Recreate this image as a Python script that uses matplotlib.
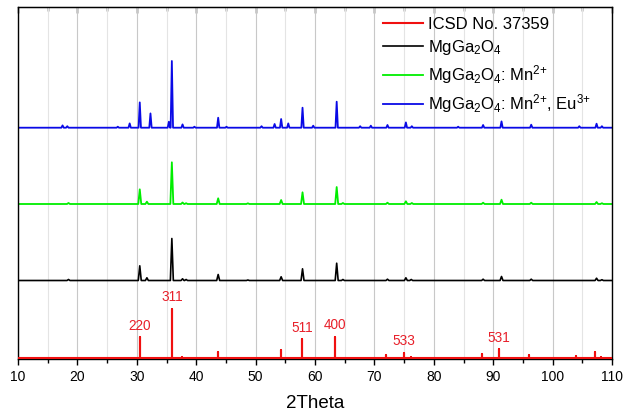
import matplotlib.pyplot as plt
import numpy as np

plt.rcParams['font.family'] = ['Liberation Sans', 'DejaVu Sans']
plt.rcParams['mathtext.default'] = 'regular'

ref_pos = [30.5, 35.9, 37.6, 43.6, 54.2, 57.8, 63.4, 71.95, 75.0, 76.1, 88.1, 91.0, 96.0, 104.0, 107.1, 108.2]
ref_h = [21.3, 49.7, 1.3, 6.0, 8.3, 19.3, 21.7, 3.3, 5.7, 1.3, 4.0, 9.0, 3.3, 2.7, 6.7, 1.3]

hkl_labels = ['220', '311', '511', '400', '533', '531']
hkl_pos = [30.5, 35.9, 57.8, 63.4, 75.0, 91.0]
hkl_h = [21.3, 49.7, 19.3, 21.7, 5.7, 9.0]

host_pos = [18.5, 30.5, 31.7, 35.9, 37.7, 38.3, 43.7, 48.7, 54.3, 57.9, 63.65, 64.7, 72.2, 75.3, 76.2, 88.3, 91.4, 96.4, 107.4, 108.3]
host_h = [1.0, 14.7, 2.7, 42.0, 1.7, 1.0, 6.0, 0.5, 3.7, 11.7, 17.3, 1.0, 1.3, 2.7, 1.0, 1.3, 4.0, 1.3, 2.3, 0.8]

mn_pos = [18.5, 30.5, 31.7, 35.9, 37.7, 38.3, 43.7, 48.7, 54.3, 57.9, 63.65, 64.7, 72.2, 75.3, 76.3, 88.3, 91.4, 96.4, 107.4, 108.3]
mn_h = [1.0, 14.7, 2.3, 41.7, 1.5, 0.8, 5.7, 0.7, 4.0, 11.7, 17.0, 1.0, 1.3, 2.7, 1.0, 1.3, 4.3, 1.3, 2.0, 0.8]

mneu_pos = [17.5, 18.3, 26.8, 28.8, 30.5, 32.3, 35.4, 35.9, 37.7, 39.7, 43.7, 45.1, 51.0, 53.2, 54.3, 55.5, 57.9, 59.7,
            63.65, 67.6, 69.4, 72.2, 75.3, 76.3, 84.1, 88.3, 91.4, 96.4, 104.5, 107.4, 108.3]
mneu_h = [2.3, 1.5, 1.0, 4.3, 25.3, 14.3, 6.0, 66.7, 3.3, 1.0, 10.0, 1.0, 1.5, 3.7, 8.7, 4.3, 20.0, 2.0,
          26.0, 1.5, 2.0, 2.7, 5.3, 1.5, 1.0, 2.7, 6.3, 3.0, 1.5, 4.0, 1.5]

# vertical offsets of the stacked patterns
offsets = {'ref': 0.8, 'host': 78.5, 'mn': 155.0, 'mneu': 231.3}


def trace(pos, h, base, hw):
    xs, ys = [10], [base]
    for p, v in zip(pos, h):
        xs += [p - hw, p, p + hw]
        ys += [base, base + v, base]
    xs.append(110)
    ys.append(base)
    return xs, ys


fig = plt.figure(figsize=(6.34, 4.13), dpi=100)
ax = fig.add_axes([18 / 634, 54 / 413, 594 / 634, 352 / 413])

x, y = trace(ref_pos, ref_h, offsets['ref'], 0.0)
ax.plot(x, y, color='#f01010', lw=1.5, label='ICSD No. 37359', zorder=3)
x, y = trace(host_pos, host_h, offsets['host'], 0.25)
ax.plot(x, y, color='black', lw=1.2, label='MgGa$_2$O$_4$')
x, y = trace(mn_pos, mn_h, offsets['mn'], 0.25)
ax.plot(x, y, color='#00ee00', lw=1.3, label='MgGa$_2$O$_4$: Mn$^{2{+}}$')
x, y = trace(mneu_pos, mneu_h, offsets['mneu'], 0.2)
ax.plot(x, y, color='#0a0ae6', lw=1.3, label='MgGa$_2$O$_4$: Mn$^{2{+}}$, Eu$^{3{+}}$')

for lab, p, v in zip(hkl_labels, hkl_pos, hkl_h):
    ax.annotate(lab, (p, offsets['ref'] + v), xytext=(0, 3), textcoords='offset points',
                ha='center', va='bottom', color='#e8202a', fontsize=9.8)

ax.set_xlim(10, 110)
ax.set_ylim(0, 352)
ax.set_yticks([])
ax.set_xticks(np.arange(10, 111, 10))
ax.set_xticks(np.arange(15, 110, 10), minor=True)
ax.grid(axis='x', which='major', color='#c8c8c8', lw=0.8)
ax.grid(axis='x', which='minor', color='#e4e4e4', lw=0.8)
ax.set_axisbelow(True)
ax.tick_params(axis='x', which='major', direction='out', length=4.5, width=1, labelsize=10)
ax.tick_params(axis='x', which='minor', direction='out', length=3, width=1)
for s in ax.spines.values():
    s.set_linewidth(1)

top = ax.secondary_xaxis('top')
top.set_xticks(np.arange(10, 111, 10))
top.set_xticks(np.arange(15, 110, 10), minor=True)
top.tick_params(which='major', direction='in', length=4.5, width=1, labeltop=False)
top.tick_params(which='minor', direction='in', length=3, width=1)

ax.set_xlabel('2Theta', fontsize=13.5, labelpad=8)

ax.legend(loc='upper left', bbox_to_anchor=(0.604, 0.99), frameon=False, fontsize=12,
          handlelength=2.35, handletextpad=0.3, labelspacing=0.36, borderaxespad=0)

fig.savefig('out.png', dpi=100)
